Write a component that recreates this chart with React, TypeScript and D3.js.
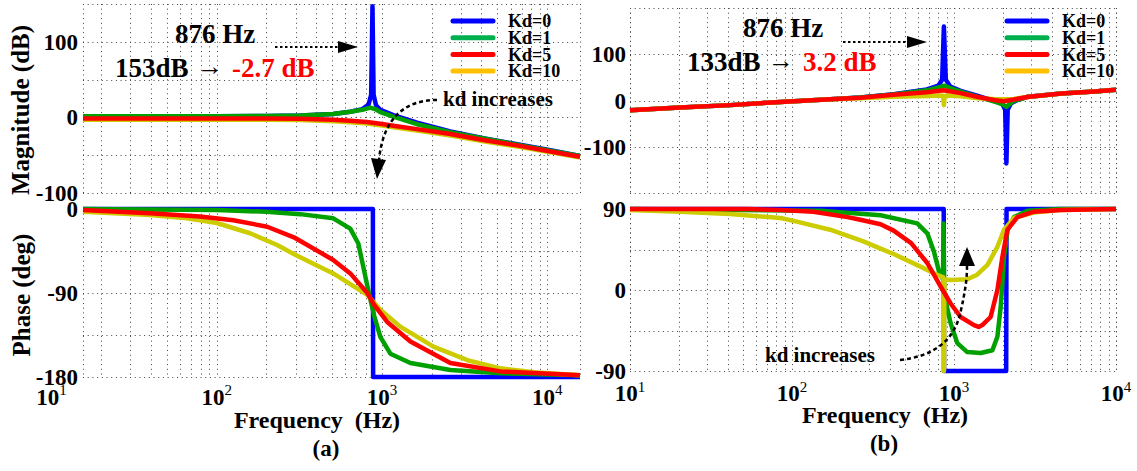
import React from 'react';
import * as d3 from 'd3';

type Pt = [number, number];

const WIDTH = 1137;
const HEIGHT = 471;
const FONT = '"Liberation Serif", "Times New Roman", Times, serif';

// series / legend
const seriesNames = ['Kd=0', 'Kd=1', 'Kd=5', 'Kd=10'];
const curveColors = ['#0000ff', '#00a000', '#ff0000', '#cccc00'];
const legendColors = ['#0000ff', '#00b050', '#ff0000', '#ffc000'];
const drawOrder = [0, 1, 3, 2]; // red is drawn last

const decades = [10, 100, 1000, 10000];

// ---------- (a) magnitude [Hz, dB]
const magA_kd0: Pt[] = [[15.5, 1.5], [100, 1.5], [200, 2], [320, 2.5], [507, 4.5], [643, 7.5], [760, 11], [830, 17], [860, 30], [876, 147], [890, 30], [920, 16], [977, 10], [1172, 3], [1630, -7], [2594, -18.5], [4110, -27.5], [6580, -35.5], [10470, -43.5], [15800, -51]];
const magA_kd1: Pt[] = [[15.5, 1.5], [100, 1.5], [200, 2], [320, 2.5], [507, 4.5], [643, 7.5], [760, 10], [849, 13], [920, 10.5], [977, 7], [1172, 1], [1630, -9], [2594, -19.5], [4110, -28], [6580, -36], [10470, -44], [15800, -51]];
const magA_kd5: Pt[] = [[15.5, -1.5], [200, -1.5], [320, -1.8], [507, -3], [643, -4.5], [811, -6], [977, -8.5], [1172, -11], [1630, -15.5], [2594, -22], [4110, -30], [6580, -37], [10470, -45], [15800, -52]];
const magA_kd10: Pt[] = [[15.5, -3], [200, -3], [320, -3.5], [507, -5], [643, -6.5], [811, -8], [977, -10.5], [1172, -13], [1630, -17.5], [2594, -24], [4110, -31.5], [6580, -38.5], [10470, -46], [15800, -53]];

// ---------- (a) phase [Hz, deg]
const phA_kd0: Pt[] = [[15.5, 0], [881, 0], [884, -180], [15800, -180]];
const phA_kd1: Pt[] = [[15.5, 0], [100, -1], [200, -3], [320, -5.5], [507, -10], [643, -21], [719, -37], [771, -62], [826, -87], [899, -115], [977, -137], [1124, -155], [1486, -165], [2594, -172.5], [5212, -176], [15800, -178]];
const phA_kd5: Pt[] = [[15.5, -1], [39.5, -4.6], [79, -8], [126, -12], [202, -19], [298, -31], [507, -54.6], [643, -69], [815, -90], [899, -103], [1076, -121], [1486, -142], [2594, -165], [5212, -174], [15800, -178]];
const phA_kd10: Pt[] = [[15.5, -3], [39.5, -6.4], [66, -10], [100, -15], [159, -26], [232, -38.6], [298, -49], [507, -69], [815, -92], [977, -108], [1291, -126], [2048, -147.5], [3289, -162], [5212, -170.7], [8260, -175], [15800, -178]];

// ---------- (b) magnitude [Hz, dB]
const magB_kd0: Pt[] = [[10, -21], [20.4, -15], [41.5, -10], [84.7, -3], [172, 2.5], [264, 6.5], [424, 13.5], [680, 24], [800, 32], [845, 45], [866, 160], [890, 45], [950, 30], [1099, 21], [1405, 10], [1800, -2], [1990, -8], [2070, -20], [2106, -136], [2145, -20], [2250, -6], [2500, 2], [2833, 8], [4596, 15], [7370, 19.5], [10000, 23]];
const magB_kd1: Pt[] = [[10, -21], [20.4, -15], [41.5, -10], [84.7, -3], [172, 2.5], [264, 6.5], [424, 13], [680, 22], [800, 28], [870, 32], [950, 27], [1099, 19], [1405, 8], [1800, -3], [1990, -8], [2106, -14], [2200, -8], [2340, -1], [2833, 7.5], [4596, 15], [7370, 19.5], [10000, 23]];
const magB_kd5: Pt[] = [[10, -21], [20.4, -15], [41.5, -10], [84.7, -3], [172, 2.5], [264, 6], [424, 12.5], [680, 18], [865, 22], [1099, 16], [1405, 7.5], [1797, 0.5], [2030, -1.5], [2340, 2], [2833, 7.5], [4596, 15], [7370, 19.5], [10000, 23]];
const magB_kd10: Pt[] = [[10, -21], [20.4, -15], [41.5, -10], [84.7, -3], [172, 2.5], [264, 5], [424, 8], [680, 9.5], [840, 11], [858, 10], [866, -10], [875, 10], [900, 11], [1099, 9], [1405, 5], [1797, 2.5], [2030, 2.5], [2340, 3.5], [2833, 7.5], [4596, 15], [7370, 19.5], [10000, 23]];

// ---------- (b) phase [Hz, deg]
const phB_kd0: Pt[] = [[10, 90], [864, 90], [868, -90], [2100, -90], [2110, 90], [10000, 90]];
const phB_kd1: Pt[] = [[10, 90], [150, 88], [352, 83], [593, 74], [684, 63], [751, 43], [807, 21], [855, 12], [862, 74], [870, -5], [887, -12], [953, -37], [1048, -59], [1208, -69], [1461, -70], [1726, -67], [1853, -52], [1942, -19], [2036, 37], [2137, 66], [2346, 81], [2836, 88], [4560, 90], [10000, 90]];
const phB_kd5: Pt[] = [[10, 90], [53, 90], [85, 89], [135.5, 87], [220, 81], [264, 78], [352, 73], [424, 66], [544, 52], [684, 30], [826, 4], [953, -15], [1099, -30], [1328, -39], [1420, -41], [1495, -39], [1683, -30], [1853, 0], [1991, 37], [2137, 67], [2461, 81], [3120, 87], [4560, 89], [10000, 90]];
const phB_kd10: Pt[] = [[10, 89], [20.4, 87], [41.5, 84.5], [85, 80], [107, 76], [172, 67], [276, 54], [352, 46], [424, 40], [621, 26], [785, 17], [860, 14], [864, -90], [868, -90], [872, 12], [953, 11], [1208, 12], [1389, 17], [1610, 28], [1853, 48], [2036, 67], [2346, 80], [3100, 86], [4560, 89], [10000, 90]];

const panelA = {
  freqDomain: [15.5, 15800], xRange: [83, 580],
  magDomain: [-100, 150], magRange: [193, 4], magGrid: [-100, -50, 0, 50, 100, 150], magTicks: [-100, 0, 100],
  phaseDomain: [-180, 0], phaseRange: [377, 209], phaseGrid: [-180, -135, -90, -45, 0], phaseTicks: [-180, -90, 0],
  yTickX: 78, xTickY: 405, expDy: -10,
  mag: [magA_kd0, magA_kd1, magA_kd5, magA_kd10],
  phase: [phA_kd0, phA_kd1, phA_kd5, phA_kd10],
  legendX: 453, legendY: 21,
};

const panelB = {
  freqDomain: [10, 10000], xRange: [630, 1116],
  magDomain: [-200, 200], magRange: [193, 8], magGrid: [-200, -100, 0, 100, 200], magTicks: [-100, 0, 100],
  phaseDomain: [-90, 90], phaseRange: [371, 209], phaseGrid: [-90, -45, 0, 45, 90], phaseTicks: [-90, 0, 90],
  yTickX: 626, xTickY: 401, expDy: -9,
  mag: [magB_kd0, magB_kd1, magB_kd5, magB_kd10],
  phase: [phB_kd0, phB_kd1, phB_kd5, phB_kd10],
  legendX: 1007, legendY: 21,
};

const gridProps = { stroke: '#444', strokeWidth: 1, strokeDasharray: '1 3.7', fill: 'none' };
const crisp = (v: number) => Math.round(v) + 0.5;

function Panel({ p }: { p: any }) {
  const x = d3.scaleLog().domain(p.freqDomain).range(p.xRange);
  const yM = d3.scaleLinear().domain(p.magDomain).range(p.magRange);
  const yP = d3.scaleLinear().domain(p.phaseDomain).range(p.phaseRange);
  const magLine = d3.line<Pt>().x(d => x(d[0])).y(d => yM(d[1]));
  const phaseLine = d3.line<Pt>().x(d => x(d[0])).y(d => yP(d[1]));
  const [x0, x1] = p.xRange;
  const vLines = [...x.ticks(), ...p.freqDomain];

  const grid = (y: any, values: number[]) => {
    const [yb, yt] = y.range();
    return (
      <g>
        {values.map(v => (
          <line key={'h' + v} x1={x0} x2={x1} y1={crisp(y(v))} y2={crisp(y(v))} {...gridProps} />
        ))}
        {vLines.map((f, i) => (
          <line key={'v' + i} x1={crisp(x(f))} x2={crisp(x(f))} y1={yt} y2={yb} {...gridProps} />
        ))}
      </g>
    );
  };

  const yTicks = (y: any, values: number[]) =>
    values.map(v => (
      <text key={v} x={p.yTickX} y={y(v)} dy="0.35em" textAnchor="end" fontSize={23} fontWeight="bold">
        {v}
      </text>
    ));

  return (
    <g>
      {grid(yM, p.magGrid)}
      {grid(yP, p.phaseGrid)}

      {drawOrder.map(i => (
        <path key={'m' + i} d={magLine(p.mag[i]) || ''} fill="none" stroke={curveColors[i]}
          strokeWidth={4.5} strokeLinejoin="round" />
      ))}
      {drawOrder.map(i => (
        <path key={'p' + i} d={phaseLine(p.phase[i]) || ''} fill="none" stroke={curveColors[i]}
          strokeWidth={4.5} strokeLinejoin="round" />
      ))}

      {yTicks(yM, p.magTicks)}
      {yTicks(yP, p.phaseTicks)}

      {decades.map(f => (
        <text key={f} x={x(f)} y={p.xTickY} textAnchor="middle" fontSize={23} fontWeight="bold">
          10<tspan dy={p.expDy} fontSize={15} fontWeight="normal">{Math.round(Math.log10(f))}</tspan>
        </text>
      ))}

      {/* legend */}
      {seriesNames.map((name, i) => (
        <g key={name}>
          <line x1={p.legendX} x2={p.legendX + 40} y1={p.legendY + i * 16.7} y2={p.legendY + i * 16.7}
            stroke={legendColors[i]} strokeWidth={5} strokeLinecap="round" />
          <text x={p.legendX + 55} y={p.legendY + i * 16.7} dy="0.35em" fontSize={18} fontWeight="bold">
            {name}
          </text>
        </g>
      ))}
    </g>
  );
}

function DottedArrow({ x1, x2, y }: { x1: number; x2: number; y: number }) {
  return (
    <g>
      <line x1={x1} x2={x2 - 18} y1={y} y2={y} stroke="#000" strokeWidth={2} strokeDasharray="2.5 2.5" />
      <polygon points={`${x2 - 20},${y - 6} ${x2},${y} ${x2 - 20},${y + 6}`} fill="#000" />
    </g>
  );
}

export default function App() {
  return (
    <svg width={WIDTH} height={HEIGHT} fontFamily={FONT}
      style={{ position: 'absolute', left: 0, top: 0, background: '#fff' }}>
      <rect width={WIDTH} height={HEIGHT} fill="#fff" />
      <Panel p={panelA} />
      <Panel p={panelB} />

      {/* axis titles */}
      <text transform="translate(29,110) rotate(-90)" textAnchor="middle" fontSize={25} fontWeight="bold">
        Magnitude (dB)
      </text>
      <text transform="translate(30,295) rotate(-90)" textAnchor="middle" fontSize={25} fontWeight="bold">
        Phase (deg)
      </text>
      <text x={317} y={428} textAnchor="middle" fontSize={24} fontWeight="bold">{'Frequency \u00a0(Hz)'}</text>
      <text x={885} y={423} textAnchor="middle" fontSize={24} fontWeight="bold">{'Frequency \u00a0(Hz)'}</text>
      <text x={326} y={456} textAnchor="middle" fontSize={23} fontWeight="bold">(a)</text>
      <text x={884} y={451} textAnchor="middle" fontSize={23} fontWeight="bold">(b)</text>

      {/* annotations (a) */}
      <text x={175} y={43} fontSize={27} fontWeight="bold">876 Hz</text>
      <text x={115} y={77} fontSize={27} fontWeight="bold">153dB</text>
      <text x={197} y={75} fontSize={26}>→</text>
      <text x={232} y={77} fontSize={27} fontWeight="bold" fill="#ff0000">-2.7 dB</text>
      <DottedArrow x1={275} x2={358} y={47} />
      <text x={443} y={106} fontSize={21} fontWeight="bold">kd increases</text>
      <path d="M437,100 C405,100 383,118 379,160" fill="none" stroke="#000" strokeWidth={2.5} strokeDasharray="4 3" />
      <polygon points="371,158 386,160 377,179" fill="#000" />

      {/* annotations (b) */}
      <text x={743} y={37} fontSize={27} fontWeight="bold">876 Hz</text>
      <text x={687} y={71} fontSize={27} fontWeight="bold">133dB</text>
      <text x={768} y={69} fontSize={26}>→</text>
      <text x={803} y={71} fontSize={27} fontWeight="bold" fill="#ff0000">3.2 dB</text>
      <DottedArrow x1={843} x2={927} y={42} />
      <text x={765} y={362} fontSize={21} fontWeight="bold">kd increases</text>
      <path d="M900,360 C935,356 955,340 961,310 C965,292 967,280 967,266" fill="none" stroke="#000"
        strokeWidth={2.5} strokeDasharray="4 3" />
      <polygon points="959,266 975,266 967,247" fill="#000" />
    </svg>
  );
}
